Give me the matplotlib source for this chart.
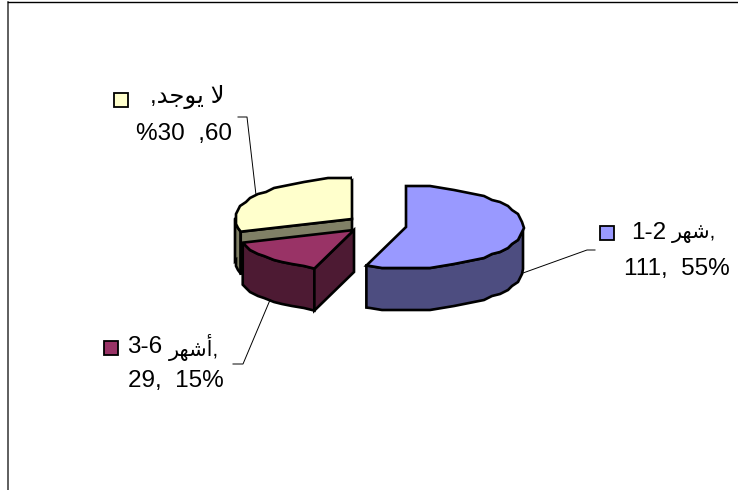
import matplotlib
matplotlib.use("Agg")
import matplotlib.pyplot as plt
import numpy as np
from matplotlib.patches import Polygon, Rectangle

plt.rcParams['font.family'] = ['Liberation Sans', 'DejaVu Sans']

# Arabic is stored shaped and in visual order, matplotlib does no shaping itself
ranges = ["1-2", "3-6", ""]
words = ["\ufeae\ufeec\ufeb7", "\ufeae\ufeec\ufeb7\ufe83", "\ufeaa\ufe9f\ufeee\ufef3 \ufefb"]
counts = [111, 29, 60]
percents = [55, 15, 30]

top_colors = ["#9999ff", "#993366", "#ffffcc"]
side_colors = ["#4d4d80", "#4d1a33", "#808066"]

rx, ry, depth = 117, 41, 42
centers = [(406, 227), (354, 230), (352, 219)]


def rim(cx, cy, a0, a1):
    # angle in degrees, clockwise from 12 o'clock, as seen in the tilted pie
    a = np.radians(np.arange(a0, a1, 6).tolist() + [a1])
    pts = np.column_stack([cx + rx*np.sin(a), cy - ry*np.cos(a)])
    # the original rim is a bit jagged, snap it to a small grid
    pts[1:-1] = np.round(pts[1:-1] / 2) * 2
    return pts


def poly(ax, pts, color):
    ax.add_patch(Polygon(pts, closed=True, fc=color, ec="black", lw=1.9, joinstyle="miter"))


fig = plt.figure(figsize=(7.38, 4.90), dpi=100)
ax = fig.add_axes([0, 0, 1, 1])
ax.set_xlim(0, 738)
ax.set_ylim(490, 0)
ax.axis("off")

# chart frame
ax.plot([8, 8], [490, 2], color="#333333", lw=1.1)
ax.plot([8, 738], [2.5, 2.5], color="black", lw=1.0)

edges = np.cumsum([0] + counts) / sum(counts) * 360
drop = np.array([0, depth])

# back to front: yellow, purple, blue
for i in [2, 1, 0]:
    cx, cy = centers[i]
    a0, a1 = edges[i], edges[i+1]
    arc = rim(cx, cy, a0, a1)
    apex = np.array([cx, cy])
    # outer wall, only the part of the rim on the front side
    if i == 0:
        front = rim(cx, cy, 90, a1)
    elif i == 1:
        front = arc
    else:
        front = rim(cx, cy, a0, 270)
    poly(ax, np.vstack([front, (front + drop)[::-1]]), side_colors[i])
    # cut faces that look towards the viewer
    if i != 0:
        poly(ax, [apex, arc[0], arc[0] + drop, apex + drop], side_colors[i])
    poly(ax, np.vstack([apex, arc]), top_colors[i])

# leader lines
leader_x = [[595, 587, 523], [233, 243, 270], [238, 247, 256]]
leader_y = [[250, 250, 273], [364, 364, 300], [117, 117, 195]]
for lx, ly in zip(leader_x, leader_y):
    ax.plot(lx, ly, color="black", lw=0.7)

# data labels
fs = 17.5
ax.text(666, 233, ranges[0], fontsize=fs, ha="right", va="center")
ax.text(716, 233, words[0] + ",", fontsize=15, ha="right", va="center")
ax.text(730, 269, f"{counts[0]},  {percents[0]}%", fontsize=fs, ha="right", va="center")
ax.text(162, 347, ranges[1], fontsize=fs, ha="right", va="center")
ax.text(219, 347, words[1] + ",", fontsize=15, ha="right", va="center")
ax.text(224, 381, f"{counts[1]},  {percents[1]}%", fontsize=fs, ha="right", va="center")
ax.text(224, 97, "," + words[2], fontsize=fs, ha="right", va="center")
ax.text(232, 134, f"%{percents[2]}  ,{counts[2]}", fontsize=fs, ha="right", va="center")

# legend keys inside the labels
key_x = [600, 104, 114]
key_y = [226, 341, 93]
for kx, ky, c in zip(key_x, key_y, top_colors):
    ax.add_patch(Rectangle((kx, ky), 14, 14, fc=c, ec="black", lw=1.3))

fig.savefig("out.png", dpi=100)
